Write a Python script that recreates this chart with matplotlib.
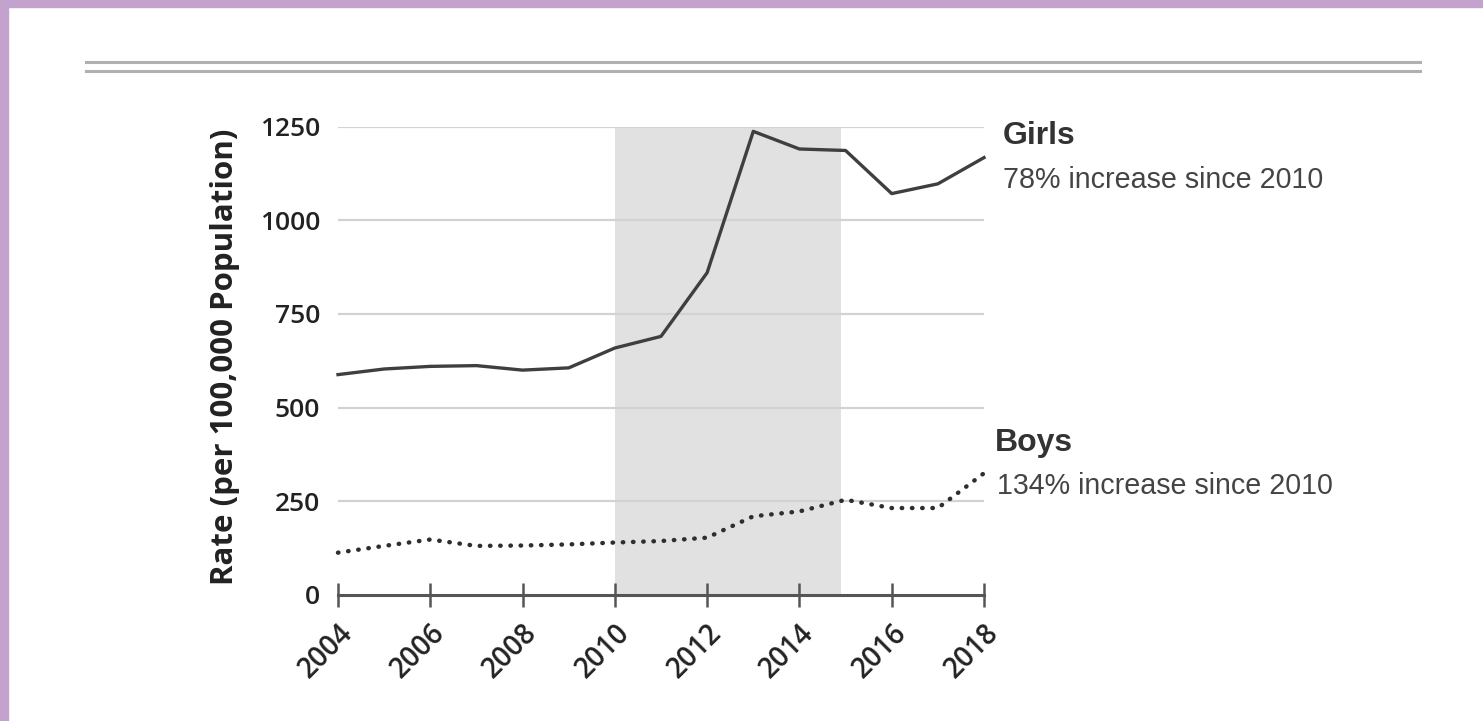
import matplotlib
matplotlib.use("Agg")
import matplotlib.pyplot as plt
from matplotlib.lines import Line2D
from matplotlib.patches import Rectangle

# data
years = [2004, 2005, 2006, 2007, 2008, 2009, 2010, 2011, 2012, 2013, 2014, 2015, 2016, 2017, 2018]
girls = [588, 603, 610, 612, 600, 606, 659, 690, 860, 1237, 1190, 1186, 1071, 1097, 1167]
boys = [113, 131, 148, 131, 132, 135, 140, 144, 153, 210, 223, 254, 232, 232, 325]
shade_span = [2010, 2014.9]
xticks = [2004, 2006, 2008, 2010, 2012, 2014, 2016, 2018]
yticks = [0, 250, 500, 750, 1000, 1250]
girls_label = "Girls"
girls_note = "78% increase since 2010"
boys_label = "Boys"
boys_note = "134% increase since 2010"
ylabel = "Rate (per 100,000 Population)"

fig = plt.figure(figsize=(14.83, 7.21), dpi=100)
fig.patch.set_facecolor("white")

# purple frame on top and left edge
fig.patches.append(Rectangle((0, 1 - 7 / 721), 1, 7 / 721, transform=fig.transFigure,
                             color="#c3a2cd", zorder=0))
fig.patches.append(Rectangle((0, 0), 8 / 1483, 1, transform=fig.transFigure,
                             color="#c3a2cd", zorder=0))

# double rule at the top
for yy in [1 - 62 / 721, 1 - 71 / 721]:
    fig.add_artist(Line2D([86 / 1483, 1420 / 1483], [yy, yy], color="#b0b0b0", lw=2.2))

ax = fig.add_axes([338 / 1483, 1 - 595 / 721, 646 / 1483, 468.5 / 721])
ax.set_xlim(years[0], years[-1])
ax.set_ylim(0, 1250)

ax.axvspan(shade_span[0], shade_span[1], color="#e1e1e1", lw=0, zorder=0)
for v in yticks[1:]:
    ax.axhline(v, color="#d2d2d2", lw=1.6, zorder=1)

ax.plot(years, girls, color="#3f3f3f", lw=2.4, zorder=3, clip_on=False)
ax.plot(years, boys, color="#2e2e2e", lw=3.2, linestyle=(0, (0.1, 2.2)),
        dash_capstyle="round", zorder=3, clip_on=False)

for s in ["top", "right", "left"]:
    ax.spines[s].set_visible(False)
ax.spines["bottom"].set_color("#555555")
ax.spines["bottom"].set_linewidth(2.2)

ax.set_xticks(xticks)
ax.set_xticklabels([str(t) for t in xticks], rotation=45, ha="right",
                   rotation_mode="anchor", fontsize=20, family="Open Sans",
                   fontweight="semibold", color="#222222")
ax.tick_params(axis="x", direction="inout", length=17, width=1.8, color="#555555", pad=8.5)
ax.set_yticks(yticks)
ax.set_yticklabels([str(t) for t in yticks], fontsize=19, family="Open Sans",
                   fontweight="semibold", color="#222222")
ax.tick_params(axis="y", length=0, pad=13)

ax.set_ylabel(ylabel, fontsize=22.5, family="Open Sans", fontweight="bold", color="#222222")
ax.yaxis.set_label_coords(-0.152, 0.508)

fig.text(1003 / 1483, 1 - 136 / 721, girls_label, fontsize=23, fontweight="bold",
         family="Liberation Sans", color="#333333", va="center", ha="left")
fig.text(1003 / 1483, 1 - 180 / 721, girls_note, fontsize=20.6,
         family="Liberation Sans", color="#444444", va="center", ha="left")
fig.text(995 / 1483, 1 - 443 / 721, boys_label, fontsize=23, fontweight="bold",
         family="Liberation Sans", color="#333333", va="center", ha="left")
fig.text(997 / 1483, 1 - 486 / 721, boys_note, fontsize=20.6,
         family="Liberation Sans", color="#444444", va="center", ha="left")

fig.savefig("out.png", dpi=100)
